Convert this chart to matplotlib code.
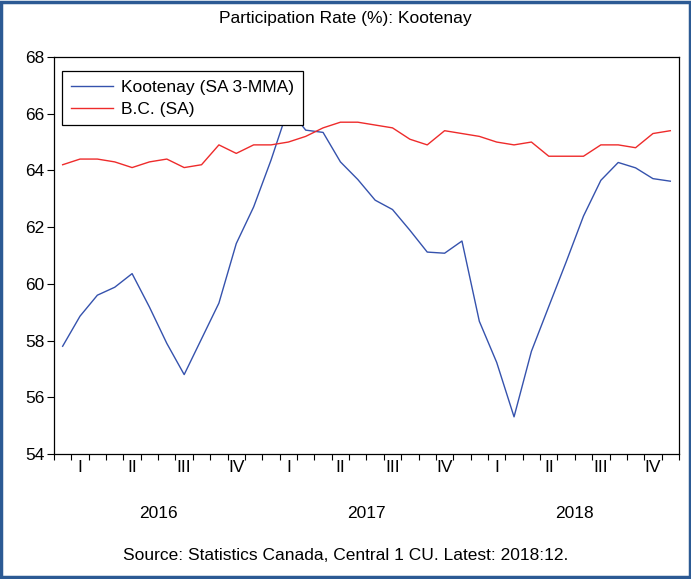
import matplotlib
matplotlib.use("Agg")
import matplotlib.pyplot as plt
import matplotlib.transforms as mtransforms
from matplotlib.patches import Rectangle
import numpy as np

plt.rcParams['font.family'] = ['Liberation Sans', 'DejaVu Sans']

# Monthly series, Jan 2016 - Dec 2018
years = ['2016', '2017', '2018']
quarters = ['I', 'II', 'III', 'IV']
kootenay = [57.8, 58.86, 59.6, 59.88, 60.36, 59.18, 57.9, 56.8, 58.06, 59.32, 61.42, 62.71,
            64.36, 66.2, 65.42, 65.34, 64.3, 63.68, 62.95, 62.62, 61.89, 61.12, 61.08, 61.51,
            58.68, 57.23, 55.31, 57.62, 59.2, 60.77, 62.39, 63.65, 64.28, 64.09, 63.71, 63.62]
bc = [64.2, 64.4, 64.4, 64.3, 64.1, 64.3, 64.4, 64.1, 64.2, 64.9, 64.6, 64.9,
      64.9, 65.0, 65.2, 65.5, 65.7, 65.7, 65.6, 65.5, 65.1, 64.9, 65.4, 65.3,
      65.2, 65.0, 64.9, 65.0, 64.5, 64.5, 64.5, 64.9, 64.9, 64.8, 65.3, 65.4]

months = np.arange(len(kootenay)) + 0.5
FS = 12.5

fig = plt.figure(figsize=(6.91, 5.79), dpi=100)
ax = fig.add_axes([0.0781, 0.2159, 0.9045, 0.6857])

ax.plot(months, kootenay, color='#3552ad', lw=1.0, label='Kootenay (SA 3-MMA)')
ax.plot(months, bc, color='#ee2b2b', lw=1.0, label='B.C. (SA)')

ax.set_xlim(0, 36)
ax.set_ylim(54, 68)
ax.set_yticks(np.arange(54, 69, 2))
ax.tick_params(axis='y', direction='out', length=5, width=0.8, labelsize=FS, pad=2)

# monthly ticks on the x axis, quarter / year labels drawn as text
ax.set_xticks(np.arange(0, 37))
ax.set_xticklabels([])
ax.tick_params(axis='x', direction='out', length=4, width=0.8)

trans = mtransforms.blended_transform_factory(ax.transData, fig.transFigure)
for y, year in enumerate(years):
    for q, qlab in enumerate(quarters):
        ax.text(y * 12 + q * 3 + 1.5, 1 - 468 / 579, qlab, transform=trans,
                ha='center', va='center', fontsize=FS)
    ax.text(y * 12 + 6, 1 - 513 / 579, year, transform=trans,
            ha='center', va='center', fontsize=FS)

for s in ax.spines.values():
    s.set_linewidth(0.9)

leg = ax.legend(loc='upper left', bbox_to_anchor=(0.0135, 0.965), fontsize=FS,
                frameon=True, fancybox=False, edgecolor='black', framealpha=1,
                handlelength=2.4, handletextpad=0.5, borderpad=0.5,
                labelspacing=0.4, borderaxespad=0)
leg.get_frame().set_linewidth(0.9)

fig.text(0.5, 1 - 18 / 579, 'Participation Rate (%): Kootenay',
         ha='center', va='center', fontsize=FS)
fig.text(0.5, 1 - 556 / 579, 'Source: Statistics Canada, Central 1 CU. Latest: 2018:12.',
         ha='center', va='center', fontsize=FS)

# outer frame
fig.patches.append(Rectangle((0.002, 0.003), 0.996, 0.994, transform=fig.transFigure,
                             fill=False, edgecolor='#2c5a94', linewidth=2.5))

fig.savefig('out.png', dpi=100)
